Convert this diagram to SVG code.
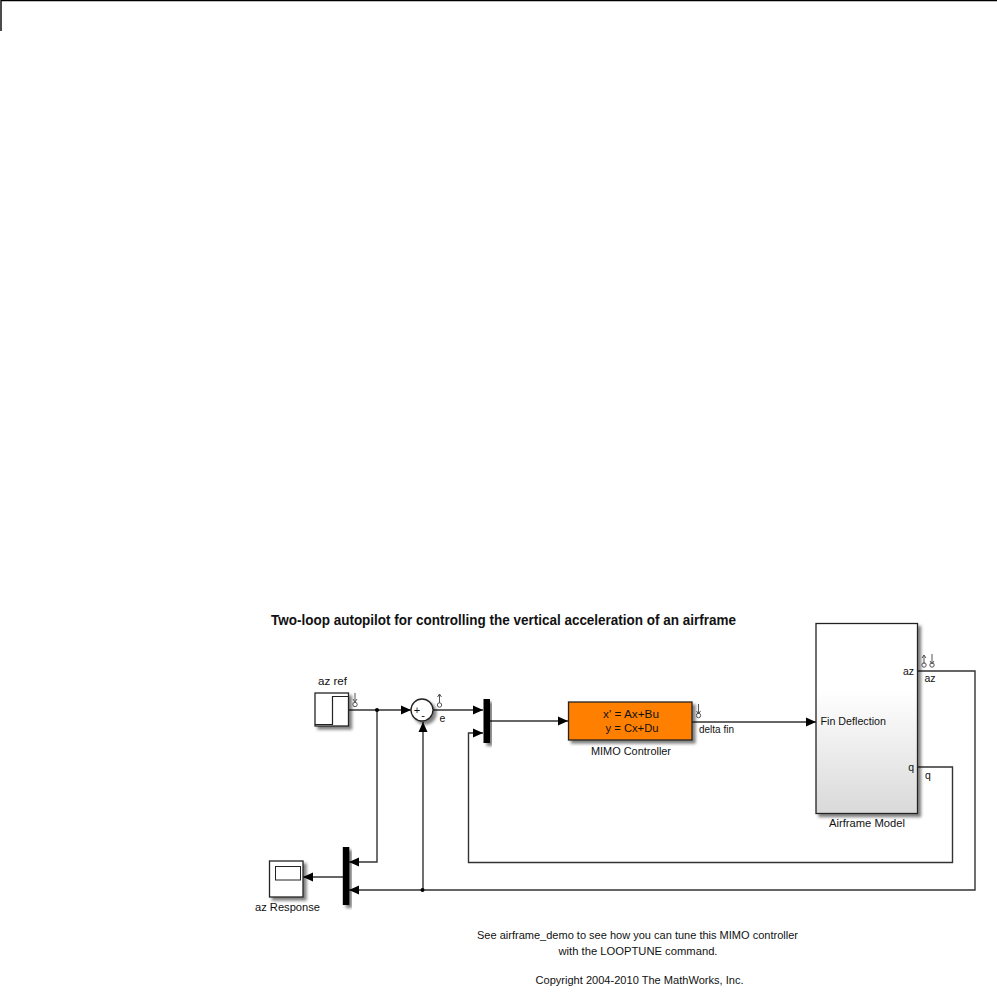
<svg xmlns="http://www.w3.org/2000/svg" width="997" height="1001" viewBox="0 0 997 1001">
<defs>
<marker id="arrow" markerUnits="userSpaceOnUse" markerWidth="11" markerHeight="11" refX="10" refY="5.500" orient="auto"><path d="M0,1 L10,5.500 L0,10 Z" fill="#000"/></marker>
<filter id="sh" x="-20%" y="-20%" width="150%" height="150%"><feDropShadow dx="3" dy="3" stdDeviation="1.8" flood-color="#000" flood-opacity="0.5"/></filter>
<linearGradient id="grad" x1="0" y1="0" x2="0" y2="1"><stop offset="0.35" stop-color="#fff"/><stop offset="1" stop-color="#d9d9d9"/></linearGradient>
</defs>
<style>
text{font-family:"Liberation Sans",Arial,sans-serif;font-size:10.5px;fill:#111}
.c{text-anchor:middle}
.b{stroke:#222;stroke-width:1.3}
.w{fill:none;stroke:#333;stroke-width:1.4}
.a{marker-end:url(#arrow)}
.p{fill:none;stroke:#555;stroke-width:1}
.k{fill:#000;stroke:none}
</style>
<rect width="997" height="1001" fill="#fff"/>
<path id="page-corner" d="M1,31 V0.600 H997" fill="none" stroke="#000" stroke-width="1.400"/>
<text id="title" x="503.500" y="625" class="c" style="font-size:14px;font-weight:bold" textLength="465" lengthAdjust="spacingAndGlyphs">Two-loop autopilot for controlling the vertical acceleration of an airframe</text>
<g id="connectors">
<path class="w a" d="M349,710 H411"/>
<path class="w a" d="M433,710 H483"/>
<path class="w a" d="M490,721 H568"/>
<path class="w a" d="M692,722 H816"/>
<path class="w a" d="M377,710 V862 H349"/>
<path class="w a" d="M918,671 H975 V890 H349"/>
<path class="w a" d="M423,890 V722"/>
<path class="w a" d="M918,767 H952.500 V862.500 H468.500 V733 H483"/>
<path class="w a" d="M343,877 H303"/>
<circle class="k" cx="377" cy="710" r="2"/>
<circle class="k" cx="422.500" cy="890" r="2"/>
</g>
<g id="az-ref">
<rect class="b" x="315" y="693" width="33.500" height="33" fill="#fff" filter="url(#sh)"/>
<path d="M315,724.500 H332.500 V696.500 H348.500" fill="none" stroke="#222" stroke-width="1.200"/>
<text x="332.500" y="685" class="c" textLength="29" lengthAdjust="spacingAndGlyphs">az ref</text>
<path class="p" d="M355,693 V702 M353,699 L355,702 L357,699"/><circle class="p" cx="355" cy="704.500" r="2.200" fill="#fff"/>
</g>
<g id="sum">
<circle class="b" cx="422" cy="710" r="11" fill="#fff" filter="url(#sh)"/>
<text x="417" y="714" class="c" style="font-size:11px">+</text>
<text x="423" y="719" class="c" style="font-size:11px">-</text>
<path class="p" d="M439.500,694 V703 M437.500,697 L439.500,694 L441.500,697"/><circle class="p" cx="439.500" cy="705" r="2.200" fill="#fff"/>
<text x="442.500" y="722" class="c">e</text>
</g>
<g id="mux1"><rect x="483.500" y="699" width="6.500" height="44" fill="#000" filter="url(#sh)"/></g>
<g id="controller">
<rect class="b" x="568.500" y="702" width="123.500" height="38" fill="#ff8000" filter="url(#sh)"/>
<text x="631" y="718" class="c" style="font-size:11.500px" textLength="56" lengthAdjust="spacingAndGlyphs">x' = Ax+Bu</text>
<text x="632" y="732" class="c" style="font-size:11.500px" textLength="53" lengthAdjust="spacingAndGlyphs">y = Cx+Du</text>
<text x="631" y="754.500" class="c" textLength="80" lengthAdjust="spacingAndGlyphs">MIMO Controller</text>
<path class="p" d="M698.500,704 V714 M696.500,711 L698.500,714 L700.500,711"/><circle class="p" cx="698.500" cy="715.500" r="2.200" fill="#fff"/>
<text x="699" y="733" textLength="35" lengthAdjust="spacingAndGlyphs">delta fin</text>
</g>
<g id="airframe">
<rect class="b" x="816" y="623.500" width="101.500" height="190" fill="url(#grad)" filter="url(#sh)"/>
<text x="820.500" y="725" textLength="65.500" lengthAdjust="spacingAndGlyphs">Fin Deflection</text>
<text x="914" y="674.500" text-anchor="end">az</text>
<text x="914" y="770.500" text-anchor="end">q</text>
<text x="867" y="827" class="c" textLength="76" lengthAdjust="spacingAndGlyphs">Airframe Model</text>
<path class="p" d="M924,655 V664 M922,658 L924,655 L926,658 M932,654 V664 M930,661 L932,664 L934,661"/>
<circle class="p" cx="924" cy="665" r="2.200" fill="#fff"/><circle class="p" cx="932" cy="665" r="2.200" fill="#fff"/>
<text x="924.500" y="682">az</text>
<text x="925" y="779">q</text>
</g>
<g id="mux2"><rect x="342.800" y="847" width="6.500" height="58" fill="#000" filter="url(#sh)"/></g>
<g id="scope">
<rect class="b" x="269.500" y="861" width="33.500" height="36" fill="#fff" filter="url(#sh)"/>
<rect x="275.500" y="866.500" width="25" height="13.500" fill="#fff" stroke="#222" stroke-width="1"/>
<text x="287.500" y="911" class="c" textLength="65" lengthAdjust="spacingAndGlyphs">az Response</text>
</g>
<g id="notes">
<text x="637.500" y="939" class="c" textLength="321" lengthAdjust="spacingAndGlyphs">See airframe_demo to see how you can tune this MIMO controller</text>
<text x="638" y="955" class="c" textLength="159" lengthAdjust="spacingAndGlyphs">with the LOOPTUNE command.</text>
<text x="639.500" y="984" class="c" textLength="208" lengthAdjust="spacingAndGlyphs">Copyright 2004-2010 The MathWorks, Inc.</text>
</g>
</svg>
